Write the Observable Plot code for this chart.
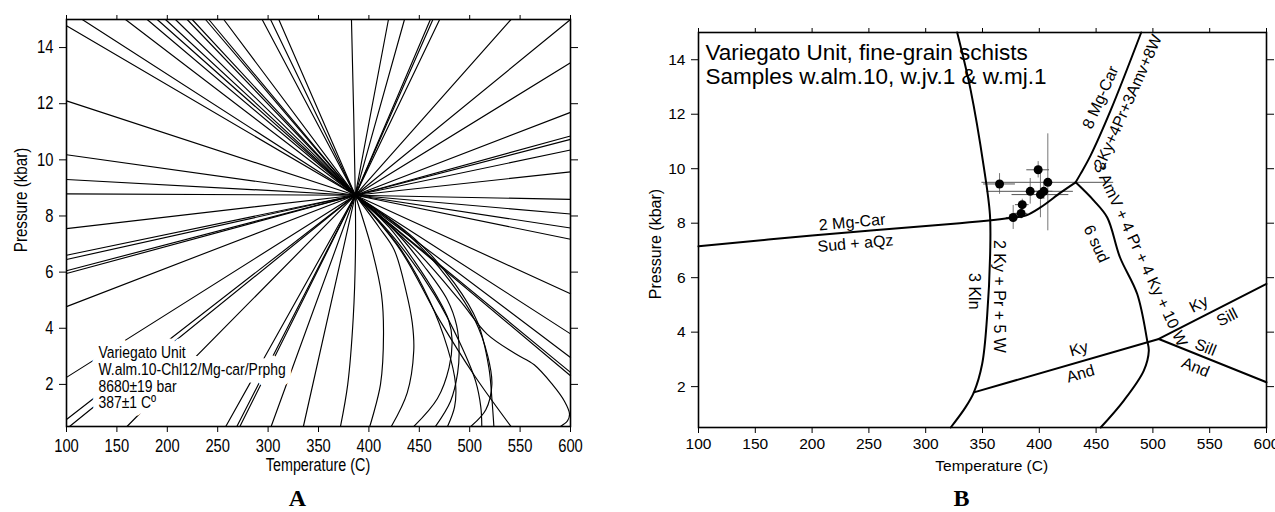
<!DOCTYPE html>
<html><head><meta charset="utf-8">
<script src="https://cdn.jsdelivr.net/npm/d3@7"></script>
<script src="https://cdn.jsdelivr.net/npm/@observablehq/plot@0.6"></script>
<style>
body{margin:0;background:#fff}
#wrap{position:relative;width:1275px;height:512px;overflow:hidden;background:#fff}
#pa,#pb{position:absolute;top:0}
#pa{left:0}
#pb{left:635px}
#ov{position:absolute;left:0;top:0;pointer-events:none}
</style></head><body>
<div id="wrap"><div id="pa"></div><div id="pb"></div><svg id="ov" width="1275" height="512"></svg></div>
<script>
// ---------- shared axes ----------
const xTicks = [100,150,200,250,300,350,400,450,500,550,600];
const yTicks = [2,4,6,8,10,12,14];
const T_DOMAIN = [100,600];
const P_DOMAIN = [0.5,15];

// ---------- Panel A data ----------
const centerA = [386.5, 8.74];
const raysTopT = [115.6,158.5,180,190,198.2,208.1,219.7,224.7,237.9,241.2,256,294.1,302.4,310.6,419.4,435.3,461,463.5,470.2,541,600];
const raysLeftP = [14.78,12.1,10.18,9.3,8.79,7.55,6.6,6.45,6.05,5.95,4.77,2.25,0.75];
const raysBottomT = [103,160,258,269,272,303,335];
const raysRightP = [13.46,11.69,10.85,10.73,10.35,9.57,8.59,8.07,7.57,7.17,5.23,3.80,2.96,2.43,2.31];
const curvesA = [
  [[382.7,15],[386.5,8.74],[386.7,6.8],[384.5,4.4],[379,2.0],[371.8,0.5]],
  [[386.5,8.74],[403,6.8],[412.5,5.2],[414.5,3.8],[411.5,2.0],[400.8,0.5]],
  [[386.5,8.74],[410,7.6],[425,6.8],[437,5.3],[443,4.2],[444.5,3.2],[438,1.7],[422.2,0.5]],
  [[386.5,8.74],[420,7.6],[445,6.4],[468,5.1],[479,4.3],[482.5,3.6],[479.5,2.6],[468,1.5],[444.5,0.5]],
  [[386.5,8.74],[425,7.5],[455,6.2],[478,5.0],[487,4.1],[489.5,3.2],[488,2.4],[481,1.4],[466,0.5]],
  [[386.5,8.74],[430,6.9],[460,5.0],[478,3.3],[486,2.0],[485,1.2],[478,0.5]],
  [[386.5,8.74],[440,7.3],[480,5.7],[505,4.3],[518,3.0],[522,2.0],[516,1.1],[501,0.5]],
  [[386.5,8.74],[430,7.0],[465,5.2],[490,3.5],[506,2.1],[511,1.2],[512,0.5]],
  [[386.5,8.74],[445,7.2],[485,5.6],[508,4.2],[519,2.6],[522,1.5],[524,0.5]],
  [[386.5,8.74],[431,6.8],[470,4.3],[505,2.3],[541,0.5]],
  [[386.5,8.74],[446,6.8],[490,5.0],[517,3.8],[545,3.1],[564,2.7],[582,2.0],[594,1.4],[599,0.95],[597,0.7],[590,0.5]]
];
const labelAText = "Variegato Unit\nW.alm.10-Chl12/Mg-car/Prphg\n8680±19 bar\n387±1 Cº";

// ---------- Panel B data ----------
const sudLine   = [[100,7.15],[200,7.55],[330,8.0],[378,8.21],[388,8.28],[401,8.58],[419,9.13],[432,9.5]];
const mgcarLine = [[432,9.5],[436.3,9.81],[445.1,10.48],[462.7,12.13],[489.7,15]];
const amvLine   = [[432,9.5],[448,8.83],[459.8,8.21],[471,6.75],[486.2,5.4],[495,3.69],[496.4,3.32],[492,2.59],[474.4,1.49],[454,0.5]];
const klnLine   = [[327.7,15],[339.4,12.92],[351.2,10.05],[356.5,8.34],[356.8,7.0],[354,4.54],[349.7,2.83],[342.4,1.79],[335,1.24],[322,0.5]];
const kyAndLine = [[342.4,1.79],[505.2,3.75]];
const kySillLine= [[505.2,3.75],[600,5.77]];
const sillAndLine=[[505.2,3.75],[600,2.16]];

const samplesT    = [365, 399, 392, 401, 404, 385, 407.5, 384, 377];
const samplesP    = [9.44, 9.96, 9.17, 9.05, 9.17, 8.68, 9.5, 8.36, 8.21];
const samplesTerr = [14, 10, 38, 25, 8, 6, 58, 6, 6];
const samplesPerr = [0.38, 0.3, 0.47, 0.85, 0.3, 0.2, 1.78, 0.2, 0.44];

const labelTexts = ["2 Mg-Car","Sud + aQz","8 Mg-Car","2Ky+4Pr+3Amv+8W","3 AmV + 4 Pr + 4 Ky + 10 W","6 sud","3 Kln","2 Ky + Pr + 5 W","Ky","And","Ky","Sill","Sill","And"];
const labelT     = [235.2,238.2,453.9,478,489,450.1,342.3,364.3,434.8,436.3,540.4,565.4,546.3,537.5];
const labelP     = [8.03,7.25,12.62,12.45,6.85,7.24,5.5,5.31,3.38,2.47,5.03,4.54,3.44,2.71];
const labelAngle = [-5,-5,-66,-66,65,65,90,90,-16,-16,-27,-27,22,22];
const titleB = "Variegato Unit, fine-grain schists\nSamples w.alm.10, w.jv.1 & w.mj.1";

// ---------- build tables ----------
const FONT = "'Liberation Sans', Arial, sans-serif";
const NARROW = 0.82;

const rayEnds = [
  ...raysTopT.map(t => [t, 15]),
  ...raysLeftP.map(p => [100, p]),
  ...raysBottomT.map(t => [t, 0.5]),
  ...raysRightP.map(p => [600, p])
];
const rayRows = rayEnds.flatMap((e,i) => [{id:i,T:centerA[0],P:centerA[1]},{id:i,T:e[0],P:e[1]}]);
const curveRows = curvesA.flatMap((c,i) => c.map(([T,P]) => ({id:i,T,P})));

const reactions = [sudLine, mgcarLine, amvLine, klnLine, kyAndLine, kySillLine, sillAndLine];
const reactionRows = reactions.flatMap((c,i) => c.map(([T,P]) => ({id:i,T,P})));
const samples = samplesT.map((T,i) => ({T, P:samplesP[i], dT:samplesTerr[i], dP:samplesPerr[i]}));
const bLabels = labelTexts.map((text,i) => ({text, T:labelT[i], P:labelP[i], angle:labelAngle[i]}));

function axes(fs, padX, padY) {
  return [
    Plot.axisX({anchor:"bottom", ticks:xTicks, tickSize:6, tickPadding:padX, label:null, fontSize:fs}),
    Plot.axisX({anchor:"top", ticks:xTicks, tickSize:5, tickFormat:() => "", label:null}),
    Plot.axisY({anchor:"left", ticks:yTicks, tickSize:7, tickPadding:padY, label:null, fontSize:fs}),
    Plot.axisY({anchor:"right", ticks:yTicks, tickSize:7, tickFormat:() => "", label:null}),
    Plot.frame({stroke:"black", strokeWidth:1.6})
  ];
}

// horizontally condense text around its own anchor (narrow typeface look)
function condense(selection, k) {
  selection.each(function() {
    const el = d3.select(this);
    const xa = el.attr("x");
    const x = (xa != null && /^-?[\d.]+$/.test(xa.trim())) ? +xa : 0;
    const tr = el.attr("transform") || "";
    el.attr("transform", `${tr} translate(${x},0) scale(${k},1) translate(${-x},0)`);
  });
}

const plotA = Plot.plot({
  width:640, height:480, marginLeft:66, marginRight:70, marginTop:19, marginBottom:54,
  x:{domain:T_DOMAIN}, y:{domain:P_DOMAIN},
  style:{fontFamily:FONT, fontSize:"18px", color:"black", background:"transparent"},
  marks:[
    Plot.line(rayRows, {x:"T", y:"P", z:"id", stroke:"black", strokeWidth:1.15}),
    Plot.line(curveRows, {x:"T", y:"P", z:"id", stroke:"black", strokeWidth:1.15, curve:"catmull-rom", clip:true}),
    Plot.text([labelAText], {x:131.7, y:3.35, text:d => d, textAnchor:"start", lineAnchor:"top", lineHeight:0.98,
      fontSize:17, fill:"white", stroke:"white", strokeWidth:15, strokeLinejoin:"round"}),
    Plot.text([labelAText], {x:131.7, y:3.35, text:d => d, textAnchor:"start", lineAnchor:"top", lineHeight:0.98,
      fontSize:17, fill:"black"}),
    ...axes(18, 7, 6)
  ]
});
condense(d3.select(plotA).selectAll("text"), NARROW);
document.getElementById("pa").append(plotA);

const plotB = Plot.plot({
  width:640, height:480, marginLeft:63, marginRight:9, marginTop:32, marginBottom:53,
  x:{domain:T_DOMAIN}, y:{domain:P_DOMAIN},
  style:{fontFamily:FONT, fontSize:"15.5px", color:"black", background:"transparent"},
  marks:[
    Plot.ruleX(samples, {x:"T", y1:d => d.P - d.dP, y2:d => d.P + d.dP, stroke:"#777", strokeWidth:1}),
    Plot.ruleY(samples, {y:"P", x1:d => d.T - d.dT, x2:d => d.T + d.dT, stroke:"#555", strokeWidth:1}),
    Plot.line(reactionRows, {x:"T", y:"P", z:"id", stroke:"black", strokeWidth:2, curve:"catmull-rom"}),
    Plot.dot(samples, {x:"T", y:"P", r:4.5, fill:"black"}),
    Plot.text(bLabels, {x:"T", y:"P", text:"text", rotate:"angle", fontSize:16, fill:"black", ariaLabel:"rxn-labels"}),
    Plot.text([titleB], {frameAnchor:"top-left", dx:7, dy:11, text:d => d, textAnchor:"start", lineAnchor:"top",
      fontSize:22.5, lineHeight:1.06, fill:"black", ariaLabel:"title-b"}),
    ...axes(15.5, 4, 6)
  ]
});
condense(d3.select(plotB).selectAll('g[aria-label="rxn-labels"] text, g[aria-label="title-b"] text'), NARROW);
document.getElementById("pb").append(plotB);

// ---------- axis titles and panel letters ----------
const ov = d3.select("#ov");
function label(x, y, txt, opts) {
  const t = ov.append("text")
    .attr("transform", `translate(${x},${y}) rotate(${opts.rot || 0}) scale(${opts.k || 1},1)`)
    .attr("text-anchor", "middle").attr("font-family", opts.font).attr("font-size", opts.size)
    .attr("font-weight", opts.weight || "normal").attr("fill", "black").text(txt);
  if (opts.dy) t.attr("dy", opts.dy);
}
label(20.5, 200, "Pressure (kbar)", {rot:-90, font:FONT, size:18.5, dy:"0.35em", k:NARROW});
label(318, 471, "Temperature (C)", {font:FONT, size:17.5, k:NARROW});
label(655.5, 244, "Pressure (kbar)", {rot:-90, font:FONT, size:16, dy:"0.35em"});
label(991.7, 471, "Temperature (C)", {font:FONT, size:15.5});
label(297.5, 506, "A", {font:"'Liberation Serif', 'Times New Roman', serif", size:24, weight:"bold"});
label(961.5, 506, "B", {font:"'Liberation Serif', 'Times New Roman', serif", size:24, weight:"bold"});
</script></body></html>
